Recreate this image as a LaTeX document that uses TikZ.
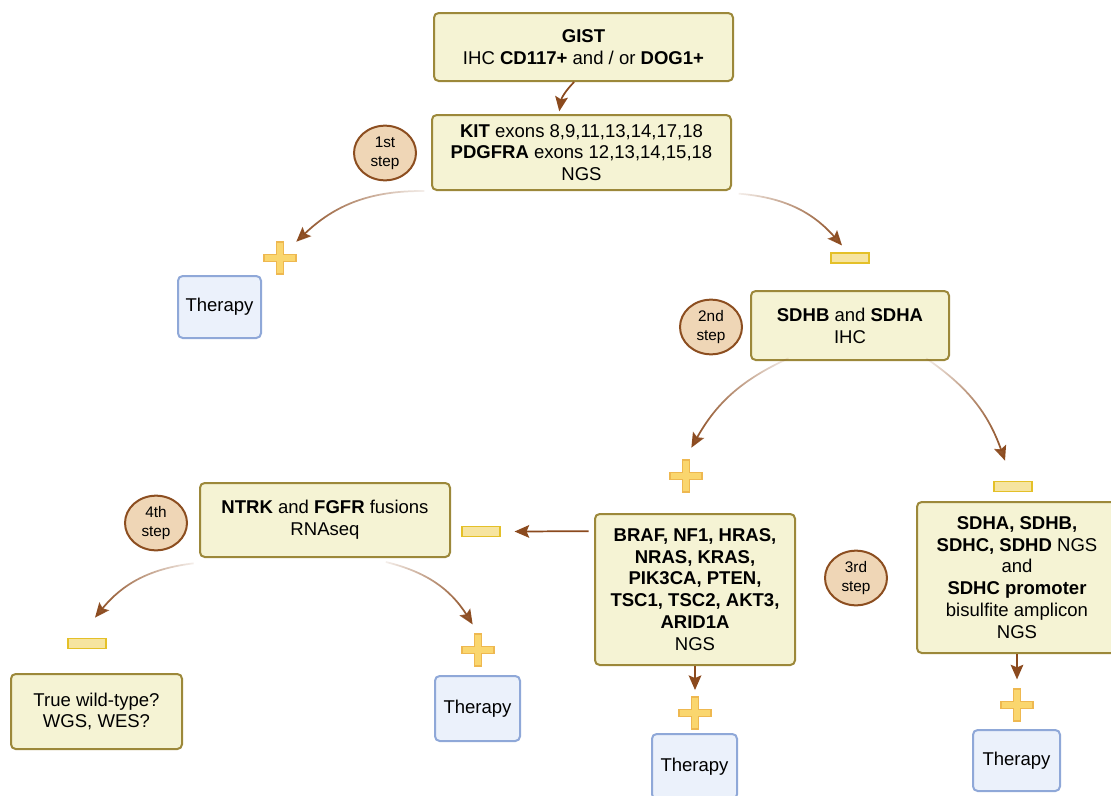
\documentclass[tikz,border=0pt]{standalone}
\usepackage{fontspec}
\setmainfont{Liberation Sans}
\usetikzlibrary{shapes.geometric,arrows.meta,fadings}

\definecolor{boxfill}{RGB}{245,243,212}
\definecolor{boxline}{RGB}{156,136,58}
\definecolor{stepfill}{RGB}{239,214,182}
\definecolor{stepline}{RGB}{140,78,32}
\definecolor{flowcol}{RGB}{139,74,30}
\definecolor{therfill}{RGB}{235,241,251}
\definecolor{therline}{RGB}{143,168,216}
\definecolor{plusfill}{RGB}{250,214,110}
\definecolor{plusline}{RGB}{238,184,80}
\definecolor{minusfill}{RGB}{246,228,160}
\definecolor{minusline}{RGB}{228,192,40}

\tikzfading[name=tailfade, left color=transparent!0, middle color=transparent!15, right color=transparent!92]

\tikzset{
  pics/plussign/.style={code={
    \node[inner sep=0pt,minimum size=24pt] (-c) {};
    \draw[draw=plusline,fill=plusfill,line width=0.9pt] (-3.5,-16) -- (3.5,-16) -- (3.5,-3.5) -- (16,-3.5) -- (16,3.5) -- (3.5,3.5) -- (3.5,16) -- (-3.5,16) -- (-3.5,3.5) -- (-16,3.5) -- (-16,-3.5) -- (-3.5,-3.5) -- cycle;
  }}
}

\begin{document}
\begin{tikzpicture}[x=0.75pt,y=0.75pt,yscale=-1,
  testbox/.style={draw=boxline,fill=boxfill,rounded corners=3.5pt,line width=1.5pt,align=center,inner sep=0pt,font=\fontsize{13.9}{16.4}\selectfont},
  therapy/.style={draw=therline,fill=therfill,rounded corners=3.5pt,line width=1.5pt,inner sep=0pt,font=\fontsize{13.9}{16.4}\selectfont},
  stepmark/.style={ellipse,draw=stepline,fill=stepfill,line width=1.5pt,inner sep=0pt,align=center,minimum width=46.5pt,minimum height=41pt,font=\fontsize{11.5}{14}\selectfont},
  minussign/.style={draw=minusline,fill=minusfill,line width=1.3pt,inner sep=0pt,minimum width=29pt,minimum height=7.5pt},
  flow/.style={draw=flowcol,line width=1.3pt,-{Stealth[length=11pt,width=9.5pt,inset=2pt]}},
  fadeto/.style={path fading=tailfade,fading angle=#1}
]
\useasboundingbox (0,0) rectangle (1111,796);

% Boxes
\node[testbox,minimum width=224.25pt,minimum height=51pt] (gist) at (583.5,47) {\textbf{GIST}\\IHC \textbf{CD117+} and / or \textbf{DOG1+}};
\node[testbox,minimum width=224.25pt,minimum height=56.25pt] (kit) at (581.5,152.5) {\textbf{KIT} exons 8,9,11,13,14,17,18\\\textbf{PDGFRA} exons 12,13,14,15,18\\NGS};
\node[testbox,minimum width=148.5pt,minimum height=51.75pt] (sdhb) at (850,325.5) {\textbf{SDHB} and \textbf{SDHA}\\IHC};
\node[testbox,minimum width=150pt,minimum height=113.25pt] (braf) at (695,589.5) {\textbf{BRAF, NF1, HRAS,}\\\textbf{NRAS, KRAS,}\\\textbf{PIK3CA, PTEN,}\\\textbf{TSC1, TSC2, AKT3,}\\\textbf{ARID1A}\\NGS};
\node[testbox,minimum width=150pt,minimum height=113.25pt] (sdha) at (1017,577.5) {\textbf{SDHA, SDHB,}\\\textbf{SDHC, SDHD} NGS\\and\\\textbf{SDHC promoter}\\bisulfite amplicon\\NGS};
\node[testbox,minimum width=187.5pt,minimum height=55.5pt] (ntrk) at (325,520) {\textbf{NTRK} and \textbf{FGFR} fusions\\RNAseq};
\node[testbox,minimum width=128.25pt,minimum height=56.25pt] (wild) at (96.5,711.5) {True wild-type?\\WGS, WES?};

% Therapy boxes
\node[therapy,minimum width=62.25pt,minimum height=46.5pt] (ther1) at (219.5,307) {Therapy};
\node[therapy,minimum width=63.75pt,minimum height=48.75pt] (ther4) at (477.5,708.5) {Therapy};
\node[therapy,minimum width=63.75pt,minimum height=48.75pt] (ther5) at (694.5,766.5) {Therapy};
\node[therapy,minimum width=65.25pt,minimum height=45.75pt] (ther6) at (1016.5,760.5) {Therapy};

% Steps
\node[stepmark] (step1) at (385,153) {1st\\step};
\node[stepmark] (step2) at (711,327) {2nd\\step};
\node[stepmark] (step3) at (856,578) {3rd\\step};
\node[stepmark] (step4) at (156,523) {4th\\step};

% Signs
\pic (p1) at (280,258) {plussign};
\pic (p2) at (686,476) {plussign};
\pic (p4) at (478,650) {plussign};
\pic (p5) at (695,713) {plussign};
\pic (p6) at (1017,705) {plussign};
\node[minussign] (m1) at (850,258) {};
\node[minussign] (m2) at (1013,486.5) {};
\node[minussign] (m3) at (481,531.5) {};
\node[minussign] (m4) at (87,643.5) {};

% Arrows
\draw[flow] (gist.255) to[bend left=18] ([yshift=-2pt]kit.120);
\draw[flow,fadeto=0] ([xshift=-5pt]kit.south west) to[bend left=22] (p1-c.north east);
\draw[flow,fadeto=180] ([xshift=5pt,yshift=2pt]kit.south east) to[bend right=22] ([xshift=-6pt,yshift=-5pt]m1.north);
\draw[flow,fadeto=0] ([yshift=-2pt]sdhb.210) to[bend left=18] ([xshift=4pt,yshift=-9pt]p2-c.north);
\draw[flow,fadeto=180] ([yshift=-2pt]sdhb.335) to[bend right=18] ([xshift=-6pt,yshift=-15pt]m2.north);
\draw[flow] ([xshift=-4pt]braf.150) -- ([xshift=10pt]m3.east);
\draw[flow,fadeto=0] ([xshift=-4pt,yshift=4pt]ntrk.south west) to[bend left=22] ([xshift=6pt,yshift=-15pt]m4.north);
\draw[flow,fadeto=180] ([yshift=3pt]ntrk.328) to[bend right=22] ([xshift=-4pt,yshift=-7pt]p4-c.north);
\draw[flow] (braf.south) -- ([yshift=-5pt]p5-c.north);
\draw[flow] (sdha.south) -- ([yshift=-7pt]p6-c.north);

\end{tikzpicture}
\end{document}
